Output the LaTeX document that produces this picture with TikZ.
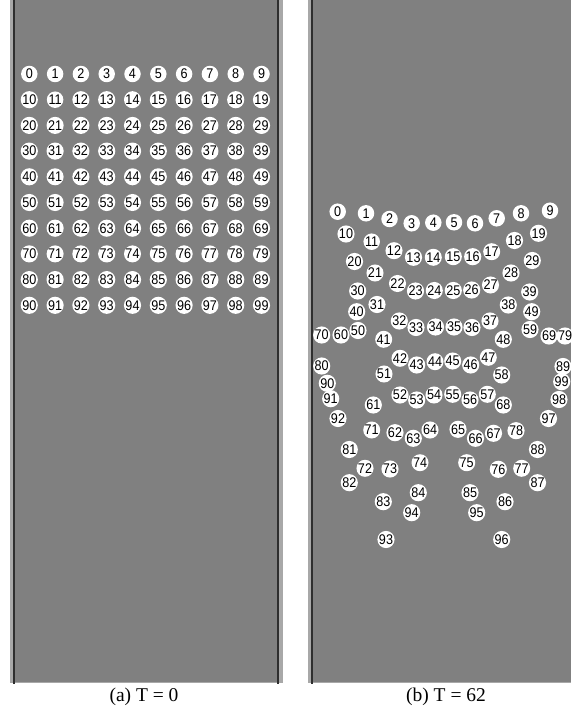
\documentclass[tikz,border=0pt]{standalone}
\usepackage{fontspec}
\setmainfont{Liberation Serif}
\newfontfamily\numfont[FakeStretch=0.9]{Liberation Sans}
\definecolor{panel}{HTML}{808080}
\definecolor{edge}{HTML}{2E2E2E}
\definecolor{rim}{HTML}{A8A8A8}
\begin{document}
\begin{tikzpicture}[x=1pt,y=-1pt,
  ball/.style={circle,fill=white,inner sep=0pt,minimum size=16.5pt,
    font=\numfont\fontsize{14}{14}\selectfont,text=black},
  caption/.style={font=\fontsize{19.5}{19.5}\selectfont,inner sep=0pt}]
\useasboundingbox (0,0) rectangle (571,711);
\fill[white] (0,0) rectangle (571,711);
% left panel
\fill[rim] (10,0) rectangle (283,683);
\fill[panel] (15,0) rectangle (277,682);
\fill[edge] (13,0) rectangle (15,684);
\fill[edge] (277,0) rectangle (279,684);
% right panel
\fill[rim] (308,0) rectangle (571,683);
\fill[panel] (313,0) rectangle (571,682);
\fill[edge] (310.5,0) rectangle (312.5,684);
% left grid, T = 0
\foreach \r in {0,...,9}{
  \foreach \c in {0,...,9}{
    \pgfmathtruncatemacro\n{10*\r+\c}
    \node[ball] (a\n) at ({29.3+25.8*\c},{74+25.7*\r}) {\n};
  }
}
% right panel, T = 62
\foreach \n/\x/\y in {
0/337.7/211.7, 1/366/213.3, 2/389.5/219, 3/411.7/223.3, 4/433.3/222.7, 5/454/222.3, 6/475/223.3, 7/496.7/218.3, 8/521/213.3, 9/550/210.7,
10/346/234, 11/371.7/241.7, 12/394/250.7, 13/413.5/257.3, 14/433.3/257.3, 15/453.3/256.7, 16/472.7/256.7, 17/491.7/251.7, 18/514.5/240.5, 19/538.5/233.3,
20/354.5/261.5, 21/375/273, 22/397.5/283.5, 23/415.5/291, 24/434.3/290.5, 25/453.3/290.5, 26/471.7/290, 27/490.5/285, 28/511/273, 29/532.3/260.5,
30/357.7/291, 31/377/304.5, 32/399.3/321, 33/416/327.5, 34/435.5/327, 35/454/327, 36/472/327.5, 37/490/321, 38/508.3/305, 39/529.7/292,
40/356.7/311.7, 41/383.7/339.3, 42/400/358.3, 43/416.7/365, 44/435/361.7, 45/452.7/361, 46/470.7/365, 47/488.3/357.3, 48/503.3/339.3, 49/531.7/311.7,
50/358/330.5, 51/384/374, 52/400/395, 53/416.7/400, 54/434/395, 55/452.7/394.3, 56/470/400, 57/487.3/394.3, 58/501.7/375, 59/530/329.5,
60/341/335, 61/373.3/405, 62/395/432.7, 63/413.3/438.3, 64/430/430, 65/458/429.3, 66/475.5/438.3, 67/493.5/433.3, 68/503.3/405, 69/549/336,
70/321.7/335, 71/371.7/430, 72/365/468.3, 73/390/469, 74/420/462.7, 75/466.7/462.7, 76/498.3/469.3, 77/521.7/468.3, 78/516/430.7, 79/565/336,
80/321.7/366, 81/349.3/449.5, 82/349.3/482.7, 83/383.3/501.7, 84/418.3/492.7, 85/470/492.7, 86/505/501.7, 87/537.5/482.7, 88/537.5/449.5, 89/563/366.5,
90/327.3/383.3, 91/330.7/398.7, 92/338/418.5, 93/386/539.5, 94/411.7/512.7, 95/476.7/512.7, 96/501.7/539.5, 97/548.5/418.5, 98/559/399.5, 99/561.7/381.7}{
  \node[ball] (b\n) at (\x,\y) {\n};
}
% captions
\node[caption] (capa) at (144,697) {(a) T = 0};
\node[caption] (capb) at (446,697) {(b) T = 62};
\end{tikzpicture}
\end{document}
